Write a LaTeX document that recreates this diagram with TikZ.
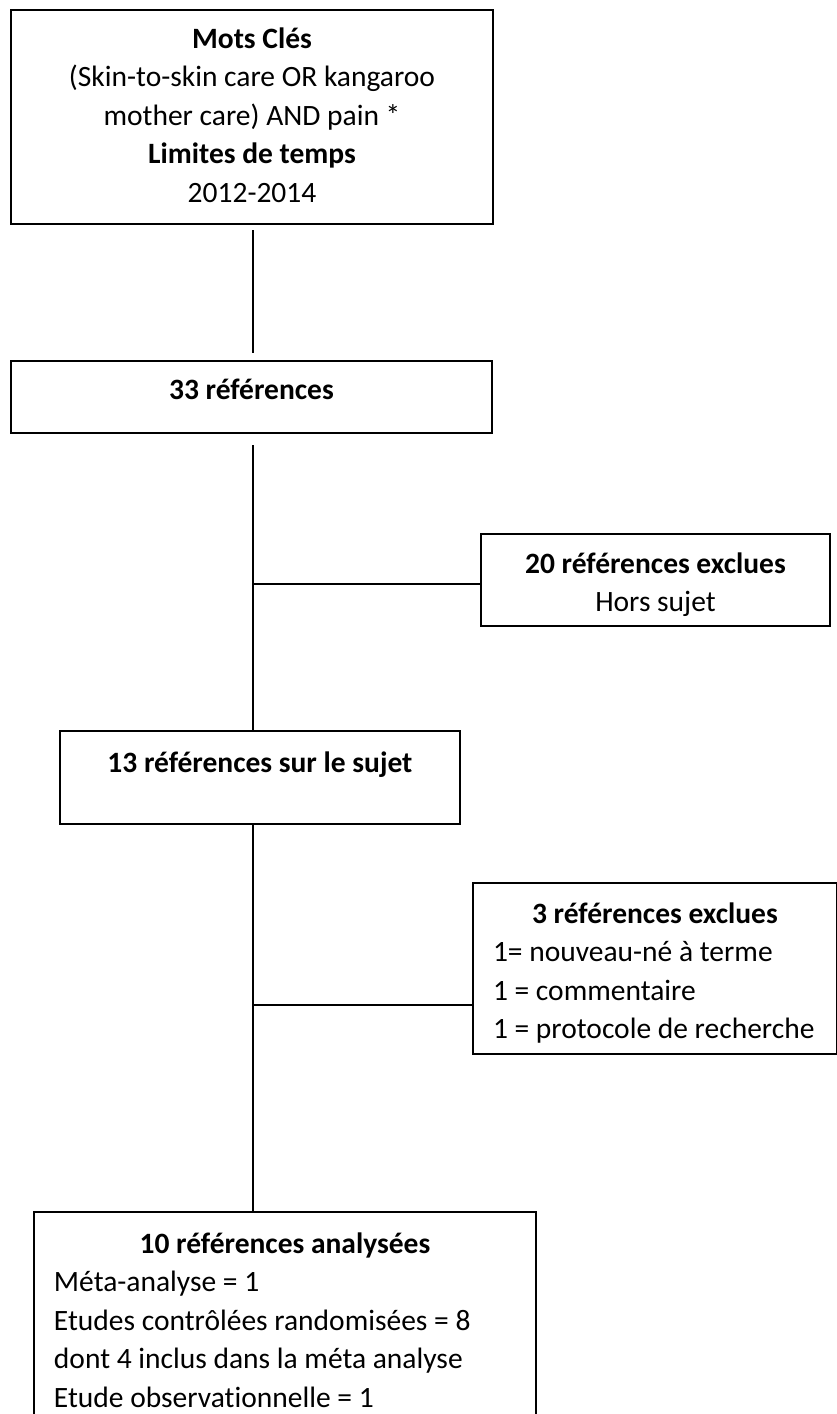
\documentclass[tikz,border=0pt]{standalone}
\usepackage{fontspec}
\setmainfont{Carlito}[Ligatures=NoCommon]
\usepackage{tikz}
\newcommand\boxfont{\fontsize{29.5pt}{38.5pt}\selectfont}
\tikzset{
  box/.style={draw, line width=2pt, anchor=north west, inner sep=0pt, font=\boxfont},
  link/.style={line width=2pt},
}

\begin{document}
\begin{tikzpicture}[x=1pt, y=-1pt]
  \useasboundingbox (0,0) rectangle (837,1414);
  \clip (0,0) rectangle (837,1414);
  % Search terms
  \node[box] (kw) at (10,9) {\parbox[t][214pt][t]{482pt}{\centering\rule{0pt}{38pt}\textbf{Mots Clés}\\ (Skin-to-skin care OR kangaroo\\ mother care) AND pain *\\ \textbf{Limites de temps}\\ 2012-2014}};
  % Found
  \node[box] (refs) at (10,360) {\parbox[t][72pt][t]{481pt}{\centering\rule{0pt}{38pt}\textbf{33 références}}};
  % First exclusion
  \node[box] (excl1) at (480,533) {\parbox[t][92pt][t]{349pt}{\centering\rule{0pt}{39pt}\textbf{20 références exclues}\\ Hors sujet}};
  % On topic
  \node[box] (subj) at (59,730) {\parbox[t][93pt][t]{400pt}{\centering\rule{0pt}{41pt}\textbf{13 références sur le sujet}}};
  % Second exclusion
  \node[box] (excl2) at (472,882) {\parbox[t][171pt][t]{364pt}{\centering\rule{0pt}{40pt}\textbf{3 références exclues}\par
    \raggedright\leftskip=20pt\relax 1= nouveau-né à terme\\ 1 = commentaire\\ 1 = protocole de recherche}};
  % Analysed
  \node[box] (incl) at (33,1211) {\parbox[t][240pt][t]{502pt}{\centering\rule{0pt}{41pt}\textbf{10 références analysées}\par
    \raggedright\leftskip=20pt\relax Méta-analyse = 1\\ Etudes contrôlées randomisées = 8\\ dont 4 inclus dans la méta analyse\\ Etude observationnelle = 1}};
  % Trunk and branches
  \coordinate (j1) at (253,584);
  \coordinate (j2) at (253,1005);
  \draw[link, shorten <=5pt, shorten >=7pt] (kw.south -| j1) -- (refs.north -| j1);
  \draw[link, shorten <=11pt] (refs.south -| j1) -- (subj.north -| j1);
  \draw[link] (j1) -- (j1 -| excl1.west);
  \draw[link] (subj.south -| j1) -- (incl.north -| j1);
  \draw[link] (j2) -- (j2 -| excl2.west);
\end{tikzpicture}
\end{document}
